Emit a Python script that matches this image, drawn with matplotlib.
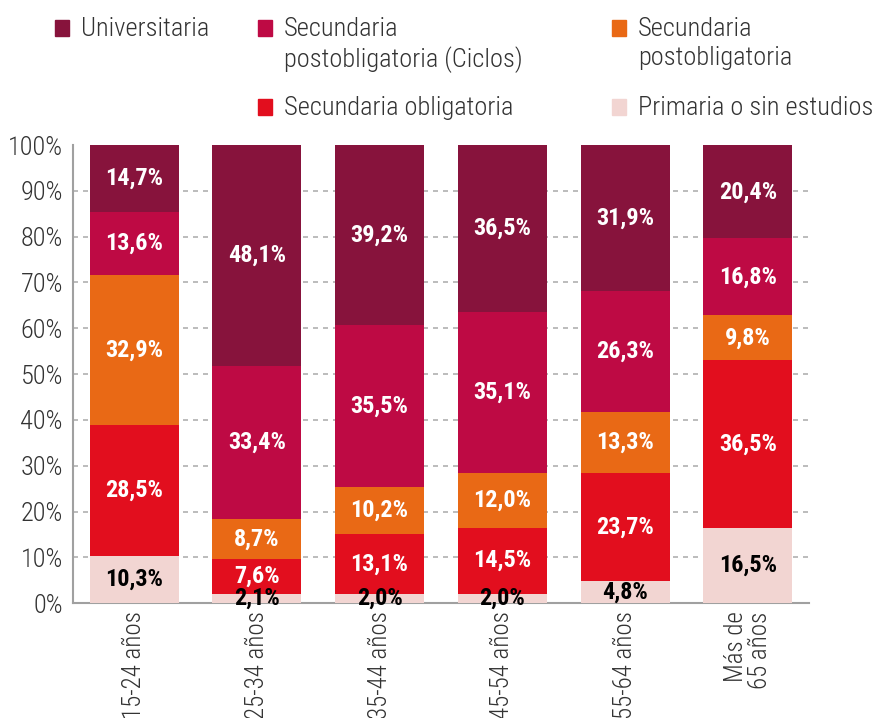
import matplotlib
matplotlib.use("Agg")
import matplotlib.pyplot as plt
from matplotlib import font_manager
from matplotlib.patches import Rectangle
import numpy as np

# ── Datos ──────────────────────────────────────────────
grupos = ["15-24 años", "25-34 años", "35-44 años", "45-54 años",
          "55-64 años", "Más de\n65 años"]

primaria = [10.3, 2.1, 2.0, 2.0, 4.8, 16.5]
sec_obligatoria = [28.5, 7.6, 13.1, 14.5, 23.7, 36.5]
sec_postobligatoria = [32.9, 8.7, 10.2, 12.0, 13.3, 9.8]
ciclos = [13.6, 33.4, 35.5, 35.1, 26.3, 16.8]
universitaria = [14.7, 48.1, 39.2, 36.5, 31.9, 20.4]

# orden de apilado (de abajo arriba)
series = [
    ("Primaria o sin estudios", primaria, "#F2D5D2", "black"),
    ("Secundaria obligatoria", sec_obligatoria, "#E20E1E", "white"),
    ("Secundaria\npostobligatoria", sec_postobligatoria, "#E96915", "white"),
    ("Secundaria\npostobligatoria (Ciclos)", ciclos, "#BE0A44", "white"),
    ("Universitaria", universitaria, "#87133C", "white"),
]

# ── Fuentes ────────────────────────────────────────────
nombres = {f.name for f in font_manager.fontManager.ttflist}
if "Roboto Condensed" in nombres:
    FAM = "Roboto Condensed"
    sz_lab, sz_tick, sz_x = 17.5, 19, 18
else:
    FAM = "Roboto"
    sz_lab, sz_tick, sz_x = 15.5, 17, 16
plt.rcParams["font.family"] = [FAM, "DejaVu Sans"]

TXT = "#333333"

fig = plt.figure(figsize=(8.81, 7.18), dpi=100)
ax = fig.add_axes([0.0825, 0.160, 0.836, 0.638])

x = np.arange(len(grupos))
bottom = np.zeros(len(grupos))
for nombre, vals, color, tcolor in series:
    vals = np.array(vals)
    ax.bar(x, vals, bottom=bottom, width=0.725, color=color, zorder=3)
    for xi, b, v in zip(x, bottom, vals):
        ax.text(xi, b + v / 2, f"{v:.1f}%".replace(".", ","),
                ha="center", va="center", color=tcolor,
                fontsize=sz_lab, fontweight="bold", zorder=4)
    bottom += vals

ax.set_xlim(-0.5, 5.5)
ax.set_ylim(0, 100)
ax.set_yticks(np.arange(0, 101, 10))
ax.set_yticklabels([f"{v}%" for v in range(0, 101, 10)],
                   fontsize=sz_tick, fontweight="light", color=TXT)
ax.set_xticks(x)
ax.set_xticklabels(grupos, rotation=90, fontsize=sz_x, fontweight="light",
                   color=TXT, va="top", ha="center", multialignment="right",
                   linespacing=1.0)
ax.tick_params(axis="y", length=0, pad=7)
ax.tick_params(axis="x", length=0, pad=6)

for v in range(10, 100, 10):
    ax.axhline(v, color="#B0B0B0", lw=1.2, ls=(0, (3, 3)), zorder=1)

for s in ["top", "right"]:
    ax.spines[s].set_visible(False)
for s in ["left", "bottom"]:
    ax.spines[s].set_color("#A0A0A0")
    ax.spines[s].set_linewidth(1.5)

# ── Leyenda manual ─────────────────────────────────────
W, H = 881, 718
leyenda = [
    ("Universitaria", "#87133C", 55, 27),
    ("Secundaria\npostobligatoria (Ciclos)", "#BE0A44", 258, 27),
    ("Secundaria\npostobligatoria", "#E96915", 612, 27),
    ("Secundaria obligatoria", "#E20E1E", 258, 106),
    ("Primaria o sin estudios", "#F2D5D2", 612, 106),
]
for texto, color, px, py in leyenda:
    fig.patches.append(Rectangle((px / W, 1 - (py + 9) / H), 14 / W, 16 / H,
                                 transform=fig.transFigure, color=color))
    fig.text((px + 26) / W, 1 - (py - 10) / H, texto, ha="left", va="top",
             fontsize=sz_tick, fontweight="light", color=TXT, linespacing=1.27)

fig.savefig("out.png", dpi=100)
